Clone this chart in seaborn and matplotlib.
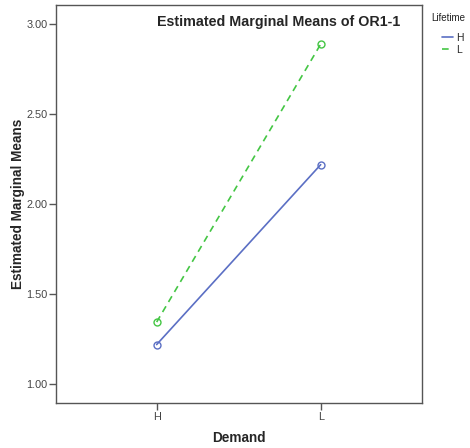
import matplotlib
matplotlib.use("Agg")
import matplotlib.pyplot as plt
from matplotlib.lines import Line2D
import seaborn as sns
import pandas as pd

# ---------- DATA ----------
demand   = ["H", "L"]
lifetime = ["H", "L"]
means_h  = [1.22, 2.22]   # Lifetime = H
means_l  = [1.345, 2.89]  # Lifetime = L
y_ticks  = [1.00, 1.50, 2.00, 2.50, 3.00]

df = pd.DataFrame({
    "Demand": demand * 2,
    "Lifetime": [lifetime[0]] * 2 + [lifetime[1]] * 2,
    "mean": means_h + means_l,
})

# ---------- STYLE ----------
sns.set_style("white")
plt.rcParams["font.family"] = ["Liberation Sans", "DejaVu Sans"]

palette = {"H": "#5B6FC4", "L": "#44C644"}

fig = plt.figure(figsize=(4.70, 4.48), dpi=100)
ax = fig.add_axes([0.119, 0.100, 0.779, 0.889])

sns.lineplot(data=df, x="Demand", y="mean", hue="Lifetime", style="Lifetime",
             palette=palette, dashes={"H": "", "L": (4, 3)},
             markers={"H": "o", "L": "o"}, markersize=5,
             markeredgewidth=1.0, linewidth=1.2, ax=ax, legend=False)
# open circles
for line in ax.get_lines():
    line.set_markeredgecolor(line.get_color())
    line.set_markerfacecolor("none")

ax.set_xlim(-0.614, 1.618)
ax.set_ylim(0.894, 3.108)
ax.set_yticks(y_ticks)
ax.set_yticklabels([f"{v:.2f}" for v in y_ticks])

for sp in ax.spines.values():
    sp.set_color("#555555")
    sp.set_linewidth(1.0)
ax.tick_params(axis="both", direction="out", length=5, width=1, color="#555555",
               labelsize=7.8, labelcolor="#444444", left=True, bottom=True, pad=1)

ax.set_xlabel("Demand", fontsize=9.8, fontweight="bold", labelpad=7)
ax.set_ylabel("Estimated Marginal Means", fontsize=9.8, fontweight="bold", labelpad=1)
ax.text(0.607, 0.957, "Estimated Marginal Means of OR1-1", transform=ax.transAxes,
        ha="center", va="center", fontsize=10.3, fontweight="bold")

# ---------- LEGEND ----------
fig.text(431 / 470, 1 - 18 / 448, "Lifetime", ha="left", va="center",
         fontsize=7, color="#222222")
handles = [Line2D([0], [0], color=palette["H"], lw=1.2),
           Line2D([0], [0], color=palette["L"], lw=1.2, dashes=(4, 3))]
fig.legend(handles, lifetime, loc="upper left",
           bbox_to_anchor=(442 / 470, 1 - 33 / 448), frameon=False, fontsize=7.5,
           handlelength=1.1, handletextpad=0.25, labelspacing=0.2,
           borderaxespad=0, borderpad=0)

fig.savefig("out.png", dpi=100)
